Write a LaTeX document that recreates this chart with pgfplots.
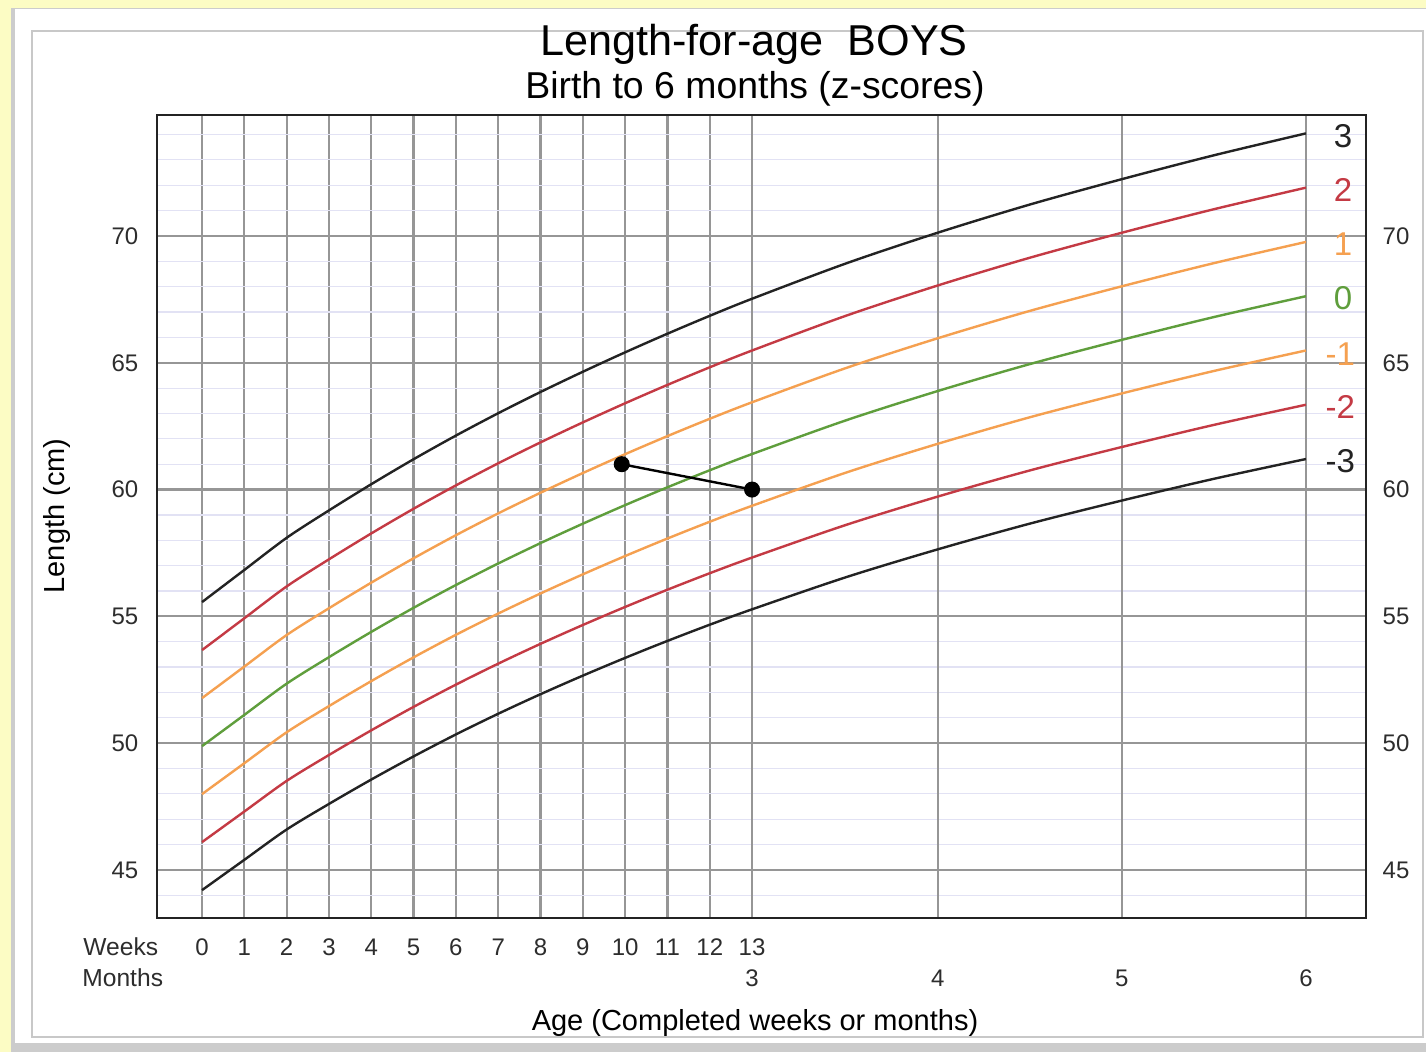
\documentclass[border=0pt]{standalone}
\usepackage{fontspec}
\setmainfont{Liberation Sans}
\usepackage{pgfplots}
\pgfplotsset{compat=1.18}
\usepackage{pgfplotstable}

\definecolor{bgyellow}{RGB}{252,252,196}
\definecolor{zblack}{RGB}{35,35,35}
\definecolor{zred}{RGB}{196,58,68}
\definecolor{zorange}{RGB}{245,160,80}
\definecolor{zgreen}{RGB}{95,158,60}
\definecolor{gridc}{RGB}{150,150,150}
\definecolor{minorc}{RGB}{226,226,244}
\definecolor{framec}{RGB}{200,200,200}
\definecolor{tickc}{RGB}{45,45,45}

\pgfplotstableread{
x m3 m2 m1 med p1 p2 p3
0 44.205 46.098 47.991 49.884 51.777 53.670 55.563
1 45.400 47.305 49.210 51.115 53.020 54.925 56.830
2 46.595 48.512 50.429 52.346 54.263 56.180 58.097
3 47.604 49.533 51.462 53.391 55.320 57.249 59.178
4 48.565 50.506 52.447 54.388 56.329 58.270 60.211
5 49.478 51.431 53.384 55.337 57.290 59.243 61.196
6 50.344 52.308 54.272 56.236 58.200 60.164 62.128
7 51.160 53.135 55.110 57.085 59.060 61.035 63.010
8 51.931 53.917 55.903 57.889 59.875 61.861 63.847
9 52.663 54.660 56.657 58.654 60.651 62.648 64.645
10 53.363 55.371 57.379 59.387 61.395 63.403 65.411
11 54.032 56.051 58.070 60.089 62.108 64.127 66.146
12 54.671 56.701 58.731 60.761 62.791 64.821 66.851
13 55.278 57.319 59.360 61.401 63.442 65.483 67.524
15.22 56.544 58.606 60.668 62.730 64.792 66.854 68.916
17.39 57.643 59.724 61.805 63.886 65.967 68.048 70.129
19.57 58.659 60.756 62.853 64.950 67.047 69.144 71.241
21.74 59.567 61.679 63.791 65.903 68.015 70.127 72.239
23.91 60.422 62.548 64.674 66.800 68.926 71.052 73.178
26.09 61.204 63.344 65.484 67.624 69.764 71.904 74.044
}\lfa

\begin{document}
\begin{tikzpicture}[x=0.5pt,y=0.5pt]
% frame
\fill[bgyellow] (0,0) rectangle (1426,1052);
\fill[black!20] (11,0) rectangle (1426,1044);
\fill[white] (15,9) rectangle (1426,1043);
\draw[framec, line width=0.8pt] (32,15) rectangle (1423,1021);

\begin{axis}[
  at={(78.5pt,67pt)}, anchor=south west,
  scale only axis, width=604.5pt, height=401.5pt,
  xmin=-1.064, xmax=27.51, ymin=43.107, ymax=74.77,
  xtick={0,...,13},
  extra x ticks={13,17.39,21.74,26.09},
  extra x tick labels={3,4,5,6},
  extra x tick style={grid=major, xticklabel style={yshift=-15.5pt}},
  ytick={45,50,...,70},
  minor ytick={44,...,74},
  grid=both,
  major grid style={gridc, line width=1.1pt},
  minor grid style={minorc, line width=0.6pt},
  tick style={draw=none},
  axis line style={zblack, line width=1.4pt},
  tick label style={font=\fontsize{12}{14}\selectfont, text=tickc},
  /pgf/number format/assume math mode=true,
  xticklabel style={anchor=center, yshift=-14.5pt},
  yticklabel style={anchor=center, xshift=-16pt},
  clip=false,
]
\addplot[zblack, line width=1.2pt, smooth] table[x=x,y=m3] {\lfa};
\addplot[zred, line width=1.2pt, smooth] table[x=x,y=m2] {\lfa};
\addplot[zorange, line width=1.2pt, smooth] table[x=x,y=m1] {\lfa};
\addplot[zgreen, line width=1.2pt, smooth] table[x=x,y=med] {\lfa};
\addplot[zorange, line width=1.2pt, smooth] table[x=x,y=p1] {\lfa};
\addplot[zred, line width=1.2pt, smooth] table[x=x,y=p2] {\lfa};
\addplot[zblack, line width=1.2pt, smooth] table[x=x,y=p3] {\lfa};
\addplot[black, line width=1.2pt, mark=*, mark size=3.4pt] coordinates {(9.92,61.0) (13,60.0)};
\node[text=zblack, font=\fontsize{16.5}{19}\selectfont] at (axis cs:26.97,73.94) {3};
\node[text=zred, font=\fontsize{16.5}{19}\selectfont] at (axis cs:26.97,71.81) {2};
\node[text=zorange, font=\fontsize{16.5}{19}\selectfont] at (axis cs:26.97,69.68) {1};
\node[text=zgreen, font=\fontsize{16.5}{19}\selectfont] at (axis cs:26.97,67.56) {0};
\node[text=zorange, font=\fontsize{16.5}{19}\selectfont] at (axis cs:26.90,65.35) {-1};
\node[text=zred, font=\fontsize{16.5}{19}\selectfont] at (axis cs:26.90,63.26) {-2};
\node[text=zblack, font=\fontsize{16.5}{19}\selectfont] at (axis cs:26.90,61.13) {-3};
\end{axis}

\begin{axis}[
  at={(78.5pt,67pt)}, anchor=south west,
  scale only axis, width=604.5pt, height=401.5pt,
  xmin=-1.064, xmax=27.51, ymin=43.107, ymax=74.77,
  xtick=\empty,
  ytick={45,50,...,70},
  yticklabel pos=right,
  axis line style={draw=none},
  tick style={draw=none},
  tick label style={font=\fontsize{12}{14}\selectfont, text=tickc},
  /pgf/number format/assume math mode=true,
  yticklabel style={anchor=center, xshift=15pt},
]
\addplot[draw=none] coordinates {(0,50)};
\end{axis}

% redraw frame of axis on top
\draw[zblack, line width=1.4pt] (157,134) rectangle (1366,937);

\node[font=\fontsize{21.6}{26}\selectfont] at (754,1008) {Length-for-age\ \ BOYS};
\node[font=\fontsize{18.7}{22}\selectfont] at (755,963) {Birth to 6 months (z-scores)};
\node[font=\fontsize{14.5}{17}\selectfont] at (755,29) {Age (Completed weeks or months)};
\node[font=\fontsize{14.5}{17}\selectfont, rotate=90] at (57,536) {Length (cm)};
\node[font=\fontsize{12.3}{14}\selectfont, text=tickc, anchor=west, inner sep=0pt] at (83,105) {Weeks};
\node[font=\fontsize{12.3}{14}\selectfont, text=tickc, anchor=west, inner sep=0pt] at (82,74) {Months};

\pgfresetboundingbox
\path[use as bounding box] (0,0) rectangle (1426,1052);
\end{tikzpicture}
\end{document}
